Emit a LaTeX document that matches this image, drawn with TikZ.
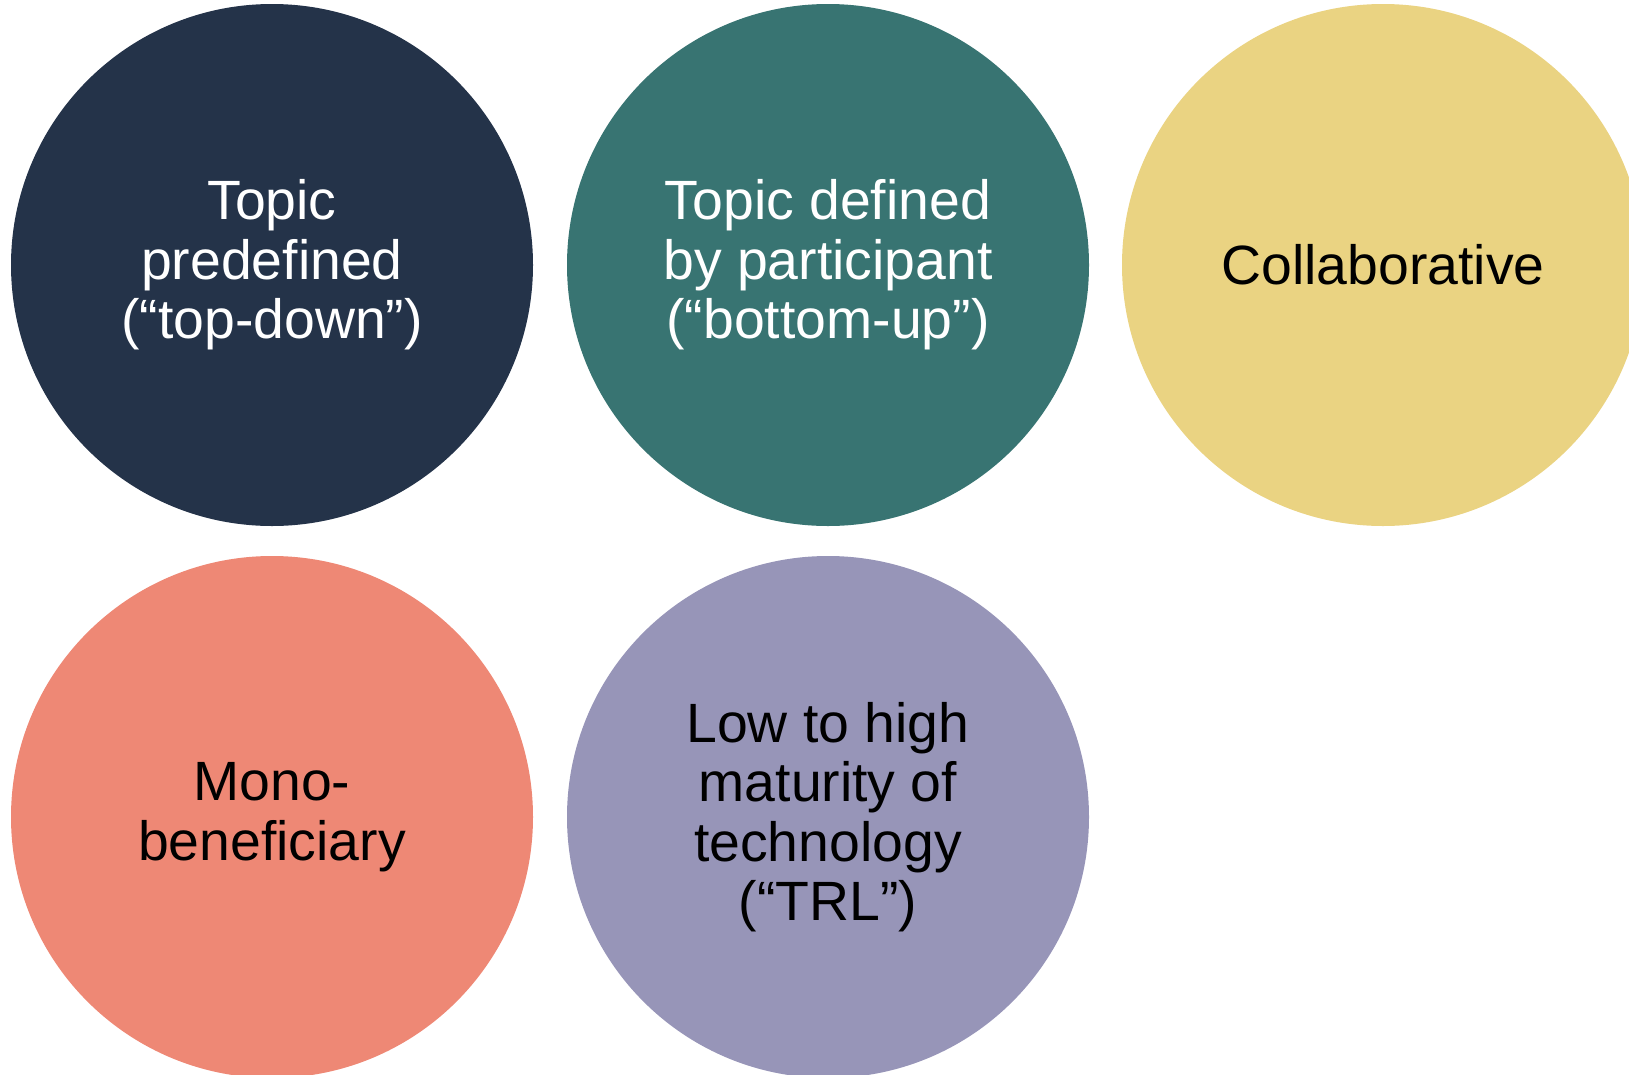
\documentclass[tikz,border=0pt]{standalone}
\usepackage{fontspec}
\setmainfont{Liberation Sans}
\usepackage{tikz}
\usetikzlibrary{positioning}

\definecolor{navy}{HTML}{243349}
\definecolor{teal}{HTML}{387472}
\definecolor{sand}{HTML}{EAD382}
\definecolor{salmon}{HTML}{EE8875}
\definecolor{lavender}{HTML}{9795B8}

\tikzset{
  blob/.style={circle, minimum size=10.44cm, inner sep=0pt, align=center,
    font=\fontsize{31.5}{33.8}\selectfont}
}

\begin{document}
\begin{tikzpicture}
      \useasboundingbox (0,0) rectangle (32.58,-21.5);
      \clip (0,0) rectangle (32.58,-21.5);
      \node[blob, fill=navy, text=white] (topdown) at (5.44,-5.30) {Topic\\predefined\\(“top-down”)};
      \node[blob, fill=teal, text=white] (bottomup) at (16.56,-5.30) {Topic defined\\by participant\\(“bottom-up”)};
      \node[blob, fill=sand] (collab) at (27.66,-5.30) {Collaborative};
      \node[blob, fill=salmon] (mono) at (5.44,-16.34) {Mono-\\beneficiary};
      \node[blob, fill=lavender] (trl) at (16.56,-16.34) {Low to high\\maturity of\\technology\\(“TRL”)};
    \end{tikzpicture}
\end{document}
